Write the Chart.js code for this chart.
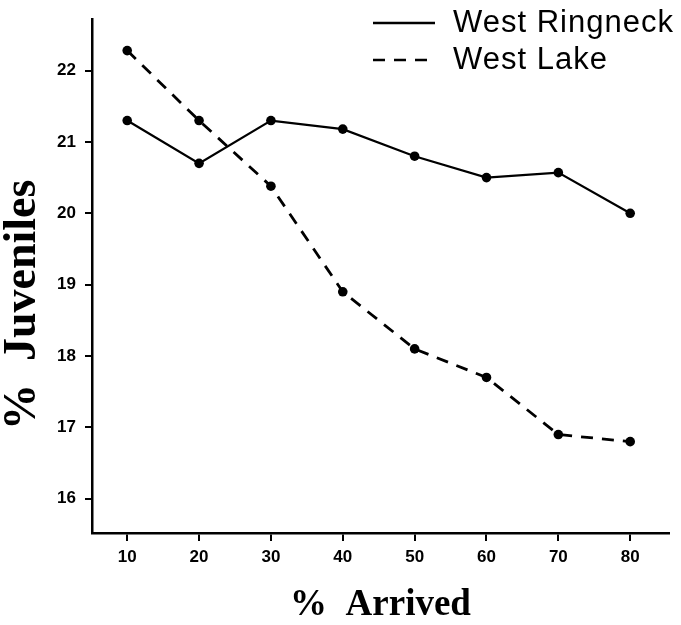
<!DOCTYPE html>
<html>
<head>
<meta charset="utf-8">
<script src="https://cdn.jsdelivr.net/npm/chart.js@4/dist/chart.umd.min.js"></script>
<style>
  html, body { margin: 0; padding: 0; background: #fff; }
  #wrap { width: 681px; height: 625px; }
</style>
</head>
<body>
<div id="wrap"><canvas id="chart"></canvas></div>
<script>
// values
const arrived = [10, 20, 30, 40, 50, 60, 70, 80];
const westRingneck = [21.3, 20.7, 21.3, 21.18, 20.8, 20.5, 20.57, 20.0];
const westLake = [22.28, 21.3, 20.38, 18.9, 18.1, 17.7, 16.9, 16.8];
const seriesNames = ['West Ringneck', 'West Lake'];
const xTicks = [10, 20, 30, 40, 50, 60, 70, 80];
const yTicks = [16, 17, 18, 19, 20, 21, 22];

const toPoints = vals => vals.map((v, i) => ({ x: arrived[i], y: v }));

// legend drawn inside the plot, top right, like the original
const cornerLegend = {
  id: 'cornerLegend',
  afterDraw(chart) {
    const ctx = chart.ctx;
    const rows = [23, 60];
    ctx.save();
    chart.data.datasets.forEach((ds, i) => {
      const y = rows[i];
      ctx.beginPath();
      ctx.setLineDash(ds.borderDash || []);
      ctx.lineWidth = 2.5;
      ctx.strokeStyle = '#000';
      ctx.moveTo(373, y);
      ctx.lineTo(435, y);
      ctx.stroke();
      ctx.setLineDash([]);
      ctx.fillStyle = '#000';
      ctx.font = '31px "Liberation Sans", Arial, sans-serif';
      ctx.letterSpacing = '1px';
      ctx.textBaseline = 'middle';
      ctx.textAlign = 'left';
      ctx.fillText(ds.label, 453, y);
    });
    ctx.restore();
  }
};

new Chart(document.getElementById('chart'), {
  type: 'line',
  data: {
    datasets: [
      {
        label: seriesNames[0],
        data: toPoints(westRingneck),
        borderColor: '#000',
        backgroundColor: '#000',
        borderWidth: 2.2,
        pointRadius: 4.8,
        pointBorderWidth: 0,
        tension: 0,
      },
      {
        label: seriesNames[1],
        data: toPoints(westLake),
        borderColor: '#000',
        backgroundColor: '#000',
        borderWidth: 2.8,
        borderDash: [12, 9],
        pointRadius: 4.8,
        pointBorderWidth: 0,
        tension: 0,
      },
    ],
  },
  options: {
    responsive: true,
    maintainAspectRatio: false,
    animation: false,
    layout: { padding: { top: 16, right: 12, left: 0, bottom: 0 } },
    plugins: {
      legend: { display: false },
      tooltip: { enabled: false },
    },
    scales: {
      x: {
        type: 'linear',
        min: 5.1,
        max: 85.4,
        afterBuildTicks: scale => { scale.ticks = xTicks.map(v => ({ value: v })); },
        afterFit: scale => { scale.height = 92; },
        grid: { drawOnChartArea: false, drawTicks: true, tickLength: 8, color: '#000', lineWidth: 2 },
        border: { display: true, color: '#000', width: 2.5 },
        ticks: {
          color: '#000',
          padding: 6,
          maxRotation: 0,
          font: { family: '"Liberation Sans", Arial, sans-serif', size: 17, weight: 'bold' },
        },
        title: {
          display: true,
          text: '%  Arrived',
          color: '#000',
          padding: { top: 0, bottom: 1 },
          font: { family: '"Liberation Serif", "Times New Roman", serif', size: 37, weight: 'bold', lineHeight: 1 },
        },
      },
      y: {
        type: 'linear',
        min: 15.52,
        max: 22.72,
        afterBuildTicks: scale => { scale.ticks = yTicks.map(v => ({ value: v })); },
        afterFit: scale => { scale.width = 92; },
        grid: { drawOnChartArea: false, drawTicks: true, tickLength: 7, color: '#000', lineWidth: 2 },
        border: { display: true, color: '#000', width: 2.5 },
        ticks: {
          color: '#000',
          padding: 9,
          font: { family: '"Liberation Sans", Arial, sans-serif', size: 17, weight: 'bold' },
        },
        title: {
          display: true,
          text: '%  Juveniles     ',
          color: '#000',
          padding: { top: 0, bottom: 0 },
          font: { family: '"Liberation Serif", "Times New Roman", serif', size: 46, weight: 'bold', lineHeight: 1 },
        },
      },
    },
  },
  plugins: [cornerLegend],
});
</script>
</body>
</html>
